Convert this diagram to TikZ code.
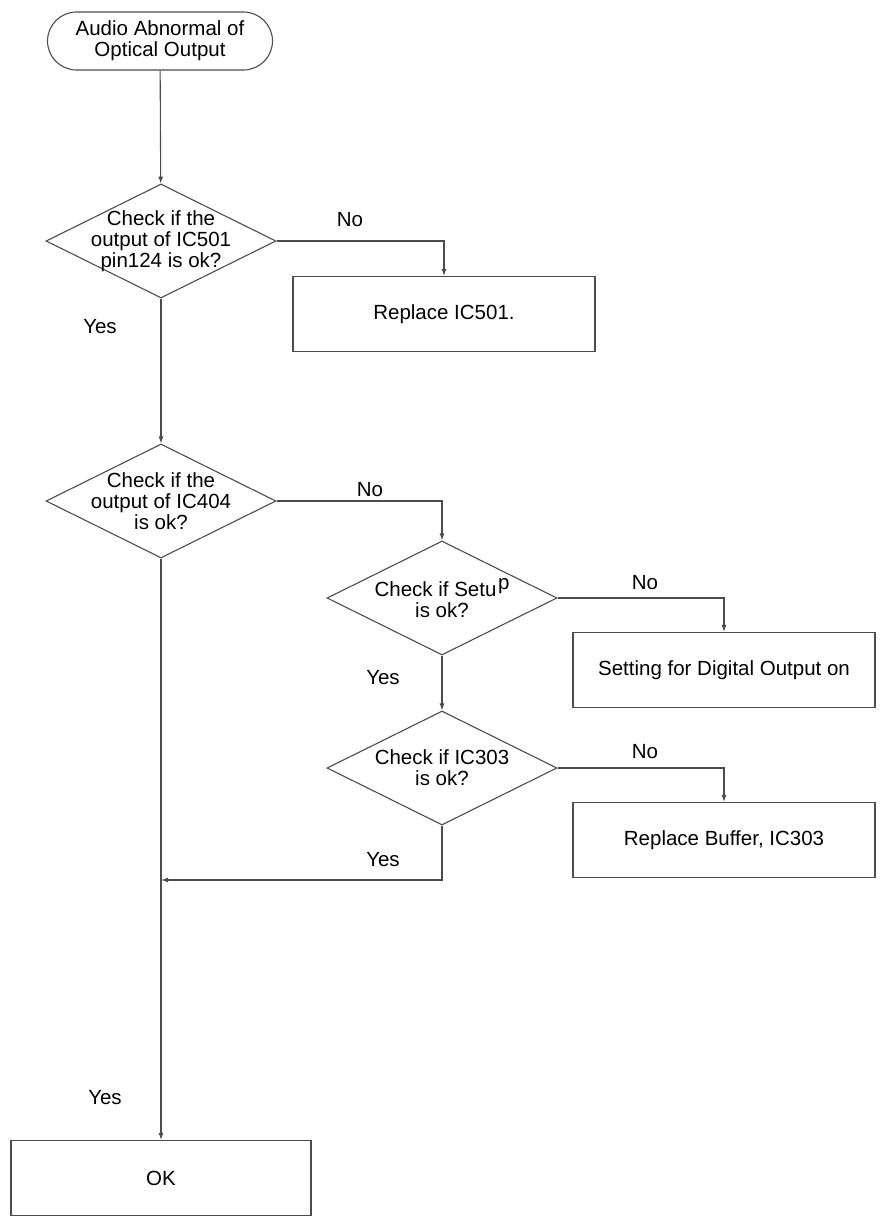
\documentclass[tikz,border=0pt]{standalone}
\usepackage{fontspec}
\setmainfont{Liberation Sans}
\usetikzlibrary{shapes.geometric,arrows.meta}

\begin{document}
\begin{tikzpicture}[x=1pt, y=-1pt,
  line/.style = {draw=black!70, line width=1.1pt},
  arr/.style = {line, -{Latex[length=7pt,width=5pt]}},
  startbox/.style = {line, rounded corners=29pt, minimum width=225pt, minimum height=58pt, align=center},
  check/.style = {line, diamond, minimum width=230pt, minimum height=114pt, inner sep=-40pt, align=center},
  fixbox/.style = {line, minimum width=302pt, minimum height=75pt, align=center},
  every node/.style = {font=\fontsize{20.5}{21}\selectfont}]
\useasboundingbox (0,0) rectangle (884,1223);

% boxes and checks
\node[startbox] (start) at (160,41) {Audio Abnormal of\\Optical Output};
\node[check] (d501) at (161,241) {Check if the\\output of IC501\\pin124 is ok?};
\node[fixbox] (r501) at (444,314) {Replace IC501.};
\node[check] (d404) at (161,501) {Check if the\\output of IC404\\is ok?};
\node[check] (dsetup) at (442,598) {Check if Setu\kern1.5pt\raisebox{7pt}{p}\\is ok?};
\node[fixbox] (rsetup) at (724,670) {Setting for Digital Output on};
\node[check] (d303) at (442,768) {Check if IC303\\is ok?};
\node[fixbox] (r303) at (724,840) {Replace Buffer, IC303};
\node[fixbox, minimum width=300pt] (ok) at (161,1178) {OK};
\coordinate (join) at (161,880);

% labels
\node (no501) at (350,220) {No};
\node (yes501) at (100,327) {Yes};
\node (no404) at (370,490) {No};
\node (nosetup) at (645,583) {No};
\node (yessetup) at (383,678) {Yes};
\node (no303) at (645,752) {No};
\node (yes303) at (383,860) {Yes};
\node (yes404) at (105,1098) {Yes};

% connectors
\draw[arr] (start) -- (d501);
\draw[arr] (d501.east) -| (r501);
\draw[arr] (d501) -- (d404);
\draw[arr] (d404.east) -| (dsetup);
\draw[arr] (dsetup.east) -| (rsetup);
\draw[arr] (dsetup) -- (d303);
\draw[arr] (d303.east) -| (r303);
\draw[arr] (d303.south) |- (join);
\draw[arr] (d404) -- (ok);
\end{tikzpicture}
\end{document}
